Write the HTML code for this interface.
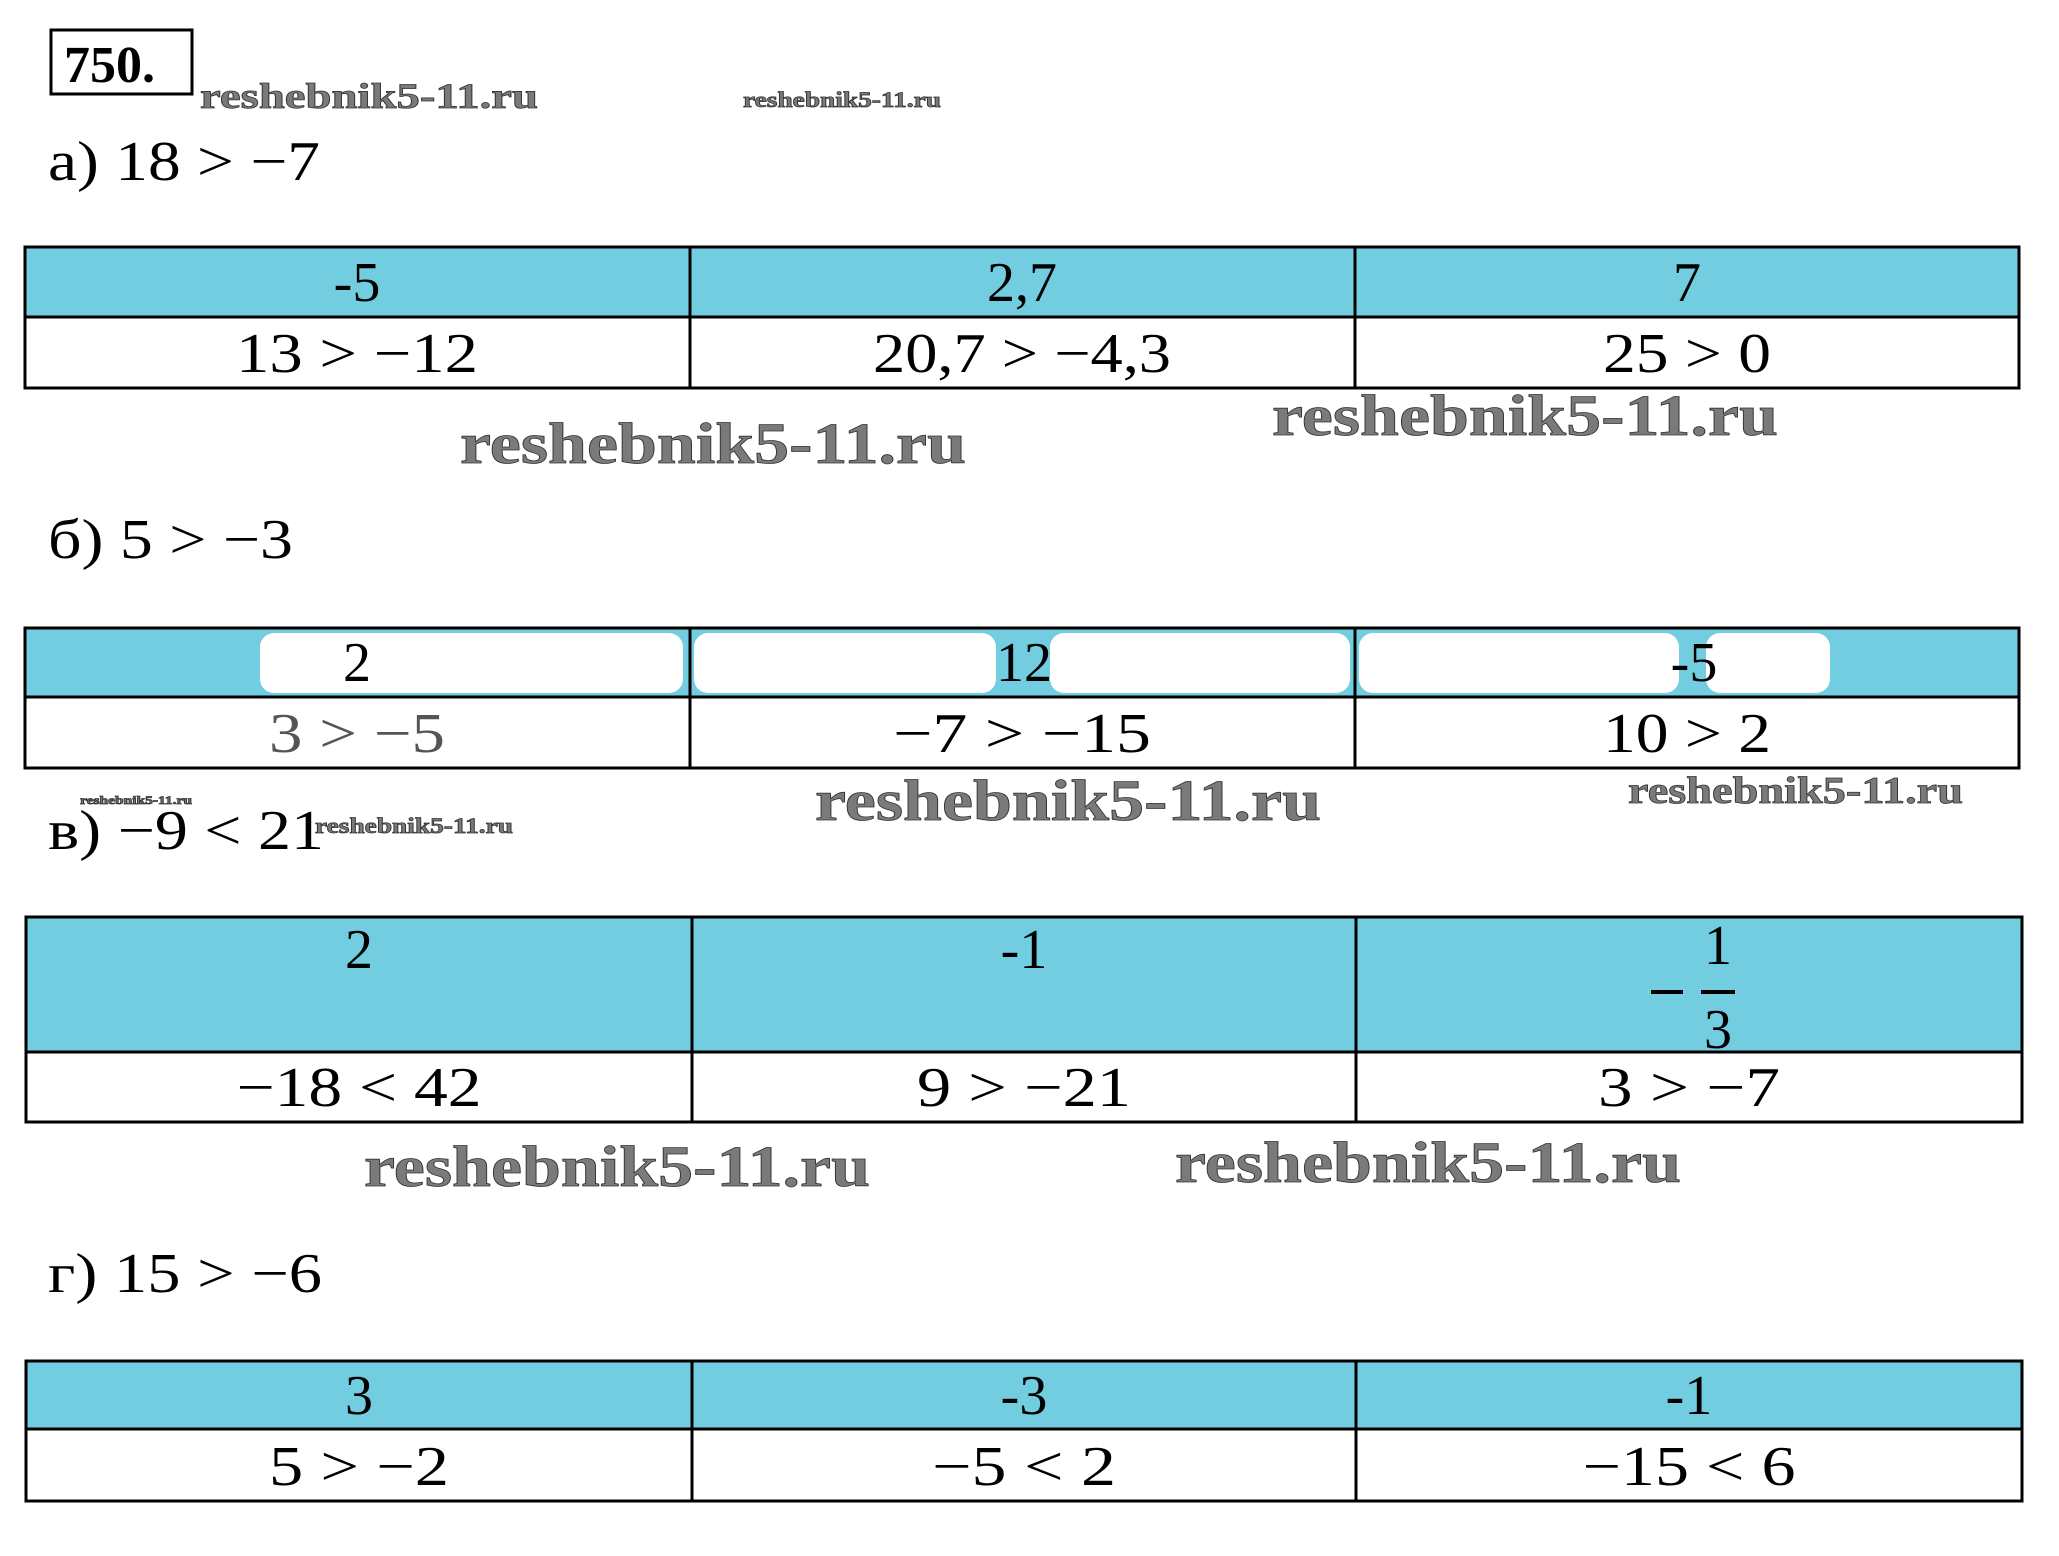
<!DOCTYPE html>
<html><head><meta charset="utf-8"><style>html,body{margin:0;padding:0;background:#fff}svg{display:block}</style></head>
<body>
<svg width="2059" height="1556" viewBox="0 0 2059 1556" xmlns="http://www.w3.org/2000/svg" font-family="Liberation Serif, DejaVu Serif, serif">
<rect width="2059" height="1556" fill="#fff"/>
<rect x="51" y="30" width="141" height="64" fill="none" stroke="#000" stroke-width="3"/>
<text x="64" y="82" font-size="52" font-weight="bold">750.</text>
<g fill="#7a7a7a" stroke="#333" stroke-width="0.8" font-weight="bold">
<text x="200" y="108" font-size="36" textLength="338" lengthAdjust="spacingAndGlyphs">reshebnik5-11.ru</text>
<text x="743" y="107" font-size="22" textLength="198" lengthAdjust="spacingAndGlyphs">reshebnik5-11.ru</text>
<text x="460" y="463" font-size="58" textLength="506" lengthAdjust="spacingAndGlyphs">reshebnik5-11.ru</text>
<text x="1272" y="435" font-size="58" textLength="506" lengthAdjust="spacingAndGlyphs">reshebnik5-11.ru</text>
<text x="815" y="820" font-size="58" textLength="506" lengthAdjust="spacingAndGlyphs">reshebnik5-11.ru</text>
<text x="1628" y="803" font-size="38" textLength="335" lengthAdjust="spacingAndGlyphs">reshebnik5-11.ru</text>
<text x="80" y="804" font-size="12" textLength="112" lengthAdjust="spacingAndGlyphs">reshebnik5-11.ru</text>
<text x="315" y="833" font-size="22" textLength="198" lengthAdjust="spacingAndGlyphs">reshebnik5-11.ru</text>
<text x="364" y="1186" font-size="58" textLength="506" lengthAdjust="spacingAndGlyphs">reshebnik5-11.ru</text>
<text x="1175" y="1182" font-size="58" textLength="506" lengthAdjust="spacingAndGlyphs">reshebnik5-11.ru</text>
</g>
<g font-size="56" fill="#000" lengthAdjust="spacingAndGlyphs">
<text x="48" y="180" textLength="272" lengthAdjust="spacingAndGlyphs">а) 18 &gt; −7</text>
<text x="48" y="558" textLength="245" lengthAdjust="spacingAndGlyphs">б) 5 &gt; −3</text>
<text x="48" y="849" textLength="276" lengthAdjust="spacingAndGlyphs">в) −9 &lt; 21</text>
<text x="48" y="1292" textLength="274" lengthAdjust="spacingAndGlyphs">г) 15 &gt; −6</text>
</g>
<g stroke="#000" stroke-width="3">
<rect x="25" y="247" width="1994" height="70" fill="#72cde0"/>
<rect x="25" y="317" width="1994" height="71" fill="#fff"/>
<line x1="690" y1="247" x2="690" y2="388"/><line x1="1355" y1="247" x2="1355" y2="388"/>
</g>
<g stroke="#000" stroke-width="3">
<rect x="25" y="628" width="1994" height="69" fill="#72cde0"/>
<rect x="25" y="697" width="1994" height="71" fill="#fff"/>
<line x1="690" y1="628" x2="690" y2="768"/><line x1="1355" y1="628" x2="1355" y2="768"/>
</g>
<g fill="#fff">
<rect x="260" y="633" width="423" height="60" rx="14"/>
<rect x="694" y="633" width="302" height="60" rx="14"/>
<rect x="1050" y="633" width="300" height="60" rx="14"/>
<rect x="1359" y="633" width="320" height="60" rx="14"/>
<rect x="1706" y="633" width="124" height="60" rx="14"/>
</g>
<g stroke="#000" stroke-width="3">
<rect x="26" y="917" width="1996" height="135" fill="#72cde0"/>
<rect x="26" y="1052" width="1996" height="70" fill="#fff"/>
<line x1="692" y1="917" x2="692" y2="1122"/><line x1="1356" y1="917" x2="1356" y2="1122"/>
</g>
<g stroke="#000" stroke-width="3">
<rect x="26" y="1361" width="1996" height="68" fill="#72cde0"/>
<rect x="26" y="1429" width="1996" height="72" fill="#fff"/>
<line x1="692" y1="1361" x2="692" y2="1501"/><line x1="1356" y1="1361" x2="1356" y2="1501"/>
</g>
<g font-size="56" text-anchor="middle" fill="#000">
<text x="357" y="301">-5</text><text x="1022" y="301" textLength="70" lengthAdjust="spacingAndGlyphs">2,7</text><text x="1687" y="301">7</text>
<text x="357" y="372" textLength="242" lengthAdjust="spacingAndGlyphs">13 &gt; −12</text><text x="1022" y="372" textLength="298" lengthAdjust="spacingAndGlyphs">20,7 &gt; −4,3</text><text x="1687" y="372" textLength="168" lengthAdjust="spacingAndGlyphs">25 &gt; 0</text>
<text x="357" y="681">2</text><text x="1024" y="681">12</text><text x="1694" y="681">-5</text>
<text x="357" y="752" fill="#555" textLength="176" lengthAdjust="spacingAndGlyphs">3 &gt; −5</text><text x="1022" y="752" textLength="258" lengthAdjust="spacingAndGlyphs">−7 &gt; −15</text><text x="1687" y="752" textLength="168" lengthAdjust="spacingAndGlyphs">10 &gt; 2</text>
<text x="359" y="968">2</text><text x="1024" y="968">-1</text>
<text x="1718" y="964">1</text><text x="1718" y="1048">3</text>
<text x="359" y="1106" textLength="245" lengthAdjust="spacingAndGlyphs">−18 &lt; 42</text><text x="1024" y="1106" textLength="214" lengthAdjust="spacingAndGlyphs">9 &gt; −21</text><text x="1689" y="1106" textLength="182" lengthAdjust="spacingAndGlyphs">3 &gt; −7</text>
<text x="359" y="1414">3</text><text x="1024" y="1414">-3</text><text x="1689" y="1414">-1</text>
<text x="359" y="1485" textLength="180" lengthAdjust="spacingAndGlyphs">5 &gt; −2</text><text x="1024" y="1485" textLength="184" lengthAdjust="spacingAndGlyphs">−5 &lt; 2</text><text x="1689" y="1485" textLength="213" lengthAdjust="spacingAndGlyphs">−15 &lt; 6</text>
</g>
<rect x="1651" y="990" width="32" height="4" fill="#000"/>
<rect x="1701" y="990" width="34" height="4" fill="#000"/>
</svg>
</body></html>
